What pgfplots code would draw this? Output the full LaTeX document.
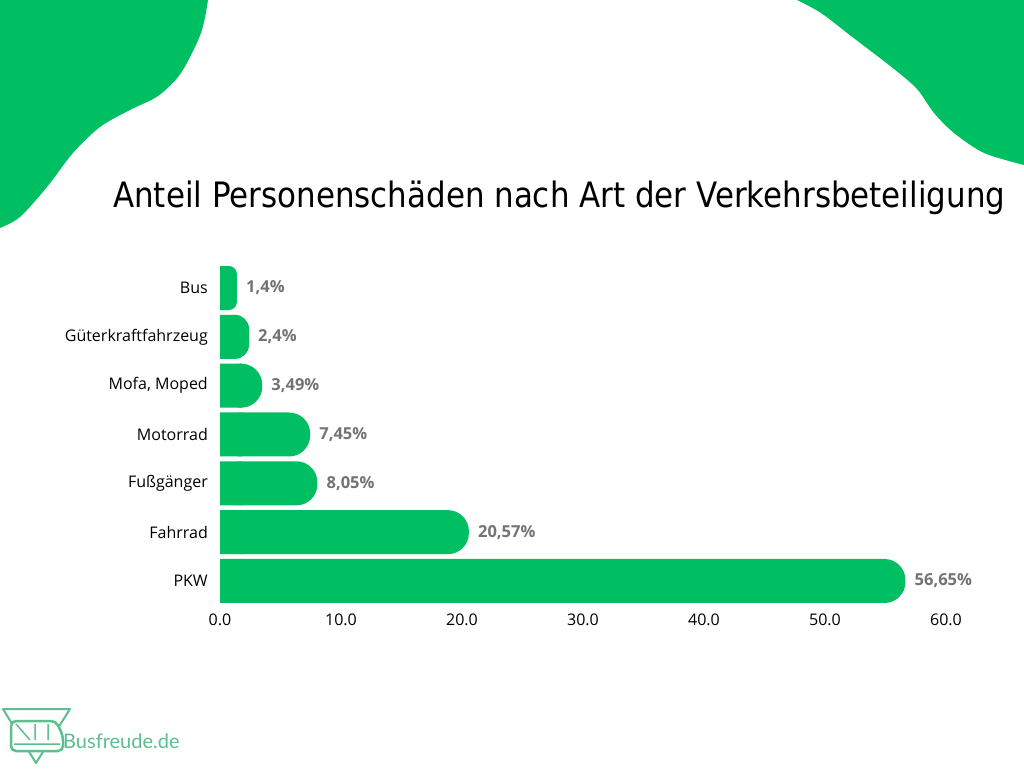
\documentclass[border=0pt]{standalone}
\usepackage{pgfplots}
\pgfplotsset{compat=1.18}
\usepackage{pgfplotstable}
\usepackage{graphicx}
\usepackage{fontspec}
\setmainfont{Open Sans}
\newfontfamily\titlefont{DejaVu Sans}
\newfontfamily\logofont{Lato}

\definecolor{brand}{HTML}{00BF63}
\definecolor{lblgray}{HTML}{737373}
\definecolor{logogreen}{HTML}{5DBE8E}

% share of casualties (%), y = row index from the bottom
\pgfplotstableread{
y x     lbl
0 56.65 56,65
1 20.57 20,57
2 8.05  8,05
3 7.45  7,45
4 3.49  3,49
5 2.4   2,4
6 1.4   1,4
}\shares

\pgfplotsset{
  roundbar/.style={xbar, bar width=44pt, bar shift=0pt, fill=brand, draw=none},
  vallabel/.style={point meta=explicit symbolic,
    nodes near coords={\pgfplotspointmeta\%},
    nodes near coords style={font=\bfseries\fontsize{16.5}{19}\selectfont,
      text=lblgray, anchor=west, inner sep=0pt, xshift=9pt}},
}

\begin{document}
\begin{tikzpicture}[x=1pt,y=1pt]
\fill[white] (0,0) rectangle (1024,768);
% corner blobs
\fill[brand] (0,768) -- (208,768) -- plot[smooth] coordinates {(208,768) (201,735) (181,695) (158,672) (130,658) (100,641) (73,615) (47,581) (20,551) (0,540)} -- cycle;
\fill[brand] (1024,768) -- (797,768) -- plot[smooth] coordinates {(797,768) (821,755) (851,732) (894,699) (917,679) (934,655) (954,635) (984,615) (1024,603)} -- cycle;

\node[anchor=base west, inner sep=0pt] at (113,560)
  {\titlefont\fontsize{35}{40}\selectfont\resizebox{892pt}{\height}{Anteil Personenschäden nach Art der Verkehrsbeteiligung}};

\begin{axis}[
  at={(220pt,162.6pt)}, anchor=south west,
  scale only axis, width=726pt, height=341.8pt,
  xmin=0, xmax=60, ymin=-0.5, ymax=6.5,
  xtick={0,10,...,60},
  ytick={0,...,6},
  yticklabels={PKW,Fahrrad,Fußgänger,Motorrad,{Mofa, Moped},Güterkraftfahrzeug,Bus},
  axis line style={draw=none}, major tick length=0pt,
  tick label style={font=\fontsize{16}{19}\selectfont, inner sep=0pt, text=black},
  xticklabel style={/pgf/number format/fixed, /pgf/number format/fixed zerofill,
    /pgf/number format/precision=1, /pgf/number format/assume math mode=true},
  xticklabel shift=8pt, yticklabel shift=12pt,
  clip=false,
]
\addplot[roundbar, rounded corners=21pt, restrict x to domain=3.4:100, vallabel]
  table[x=x, y=y, meta=lbl] {\shares};
\addplot[roundbar, rounded corners=14pt, restrict x to domain=1.7:3.4, vallabel]
  table[x=x, y=y, meta=lbl] {\shares};
\addplot[roundbar, rounded corners=8pt, restrict x to domain=0:1.7, vallabel]
  table[x=x, y=y, meta=lbl] {\shares};
% square off the left ends
\addplot[roundbar, sharp corners, x filter/.expression={x<1.7 ? 0.7 : (x<3.4 ? 1.2 : 1.8)}]
  table[x=x, y=y] {\shares};
\end{axis}

% logo
\draw[logogreen, line width=2pt, line join=round] (3,59) -- (70,59) -- (36,5) -- cycle;
\draw[logogreen, line width=2.5pt, rounded corners=5pt, fill=white] (11,17) -- (11,47) -- (56,47) -- (63,32) -- (63,17) -- cycle;
\draw[logogreen, line width=1.5pt] (14,24) -- (60,24) (16,44) -- (30,28) (35,44) -- (35,28) (48,44) -- (48,28);
\node[anchor=west, inner sep=0pt, text=logogreen] at (63,27) {\logofont\fontsize{20}{24}\selectfont Busfreude.de};
\end{tikzpicture}
\end{document}
